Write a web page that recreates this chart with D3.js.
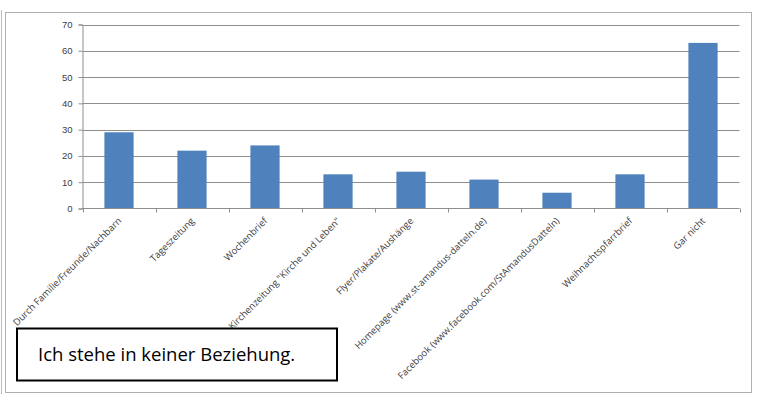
<!DOCTYPE html>
<html>
<head>
<meta charset="utf-8">
<script src="https://cdn.jsdelivr.net/npm/d3@7"></script>
<style>
  body { margin: 0; background: #fff; }
  svg { display: block; font-family: "Open Sans", sans-serif; }
</style>
</head>
<body>
<div id="chart"></div>
<script>
const categories = [
  "Durch Familie/Freunde/Nachbarn",
  "Tageszeitung",
  "Wochenbrief",
  "Kirchenzeitung \"Kirche und Leben\"",
  "Flyer/Plakate/Aushänge",
  "Homepage (www.st-amandus-datteln.de)",
  "Facebook (www.facebook.com/StAmandusDatteln)",
  "Weihnachtspfarrbrief",
  "Gar nicht"
];
const values = [29, 22, 24, 13, 14, 11, 6, 13, 63];
const yTicks = [0, 10, 20, 30, 40, 50, 60, 70];
const noteText = "Ich stehe in keiner Beziehung.";

const W = 767, H = 394;
const plot = { left: 82.5, right: 739.5, top: 24.5, bottom: 208.5 };

const svg = d3.select("#chart").append("svg")
  .attr("width", W)
  .attr("height", H);

// Rahmen
svg.append("line")
  .attr("x1", 1.5).attr("x2", 1.5).attr("y1", 10).attr("y2", H)
  .attr("stroke", "#bdbdbd").attr("stroke-width", 1);
svg.append("rect")
  .attr("x", 5.5).attr("y", 12.5)
  .attr("width", 746).attr("height", 380)
  .attr("fill", "#fff")
  .attr("stroke", "#b0b0b0").attr("stroke-width", 1);

const x = d3.scaleBand()
  .domain(categories)
  .range([plot.left, plot.right])
  .paddingInner(0.6)
  .paddingOuter(0.3);

const y = d3.scaleLinear()
  .domain([0, 70])
  .range([plot.bottom, plot.top]);

// Gitterlinien
svg.append("g")
  .selectAll("line")
  .data(yTicks.filter(d => d > 0))
  .join("line")
  .attr("x1", plot.left).attr("x2", plot.right)
  .attr("y1", d => Math.round(y(d)) + 0.5)
  .attr("y2", d => Math.round(y(d)) + 0.5)
  .attr("stroke", "#8e8e8e");

// Balken
svg.append("g")
  .selectAll("rect")
  .data(values)
  .join("rect")
  .attr("x", (d, i) => x(categories[i]))
  .attr("width", x.bandwidth())
  .attr("y", d => y(d))
  .attr("height", d => y(0) - y(d))
  .attr("fill", "#4f81bd");

// Y-Achse
const yAxis = svg.append("g")
  .attr("transform", `translate(${plot.left},0)`)
  .call(d3.axisLeft(y).tickValues(yTicks).tickSize(4).tickPadding(6));
yAxis.select(".domain").attr("stroke", "#8e8e8e");
yAxis.selectAll(".tick line").attr("stroke", "#8e8e8e");
yAxis.selectAll(".tick text")
  .attr("fill", "#404040")
  .style("font-size", "9.5px");

// X-Achse
const step = x.step();
const boundaries = d3.range(categories.length + 1).map(i => plot.left + i * step);
const xAxis = svg.append("g");
xAxis.append("line")
  .attr("x1", plot.left).attr("x2", plot.right)
  .attr("y1", plot.bottom).attr("y2", plot.bottom)
  .attr("stroke", "#8e8e8e");
xAxis.selectAll(".xt")
  .data(boundaries)
  .join("line")
  .attr("class", "xt")
  .attr("x1", d => Math.round(d) + 0.5).attr("x2", d => Math.round(d) + 0.5)
  .attr("y1", plot.bottom).attr("y2", plot.bottom + 4)
  .attr("stroke", "#8e8e8e");

xAxis.selectAll(".xl")
  .data(categories)
  .join("text")
  .attr("class", "xl")
  .attr("text-anchor", "end")
  .attr("fill", "#404040")
  .style("font-size", "9.5px")
  .attr("transform", d => `translate(${x(d) + x.bandwidth() / 2 + 3},${plot.bottom + 13}) rotate(-45)`)
  .text(d => d);

// Textfeld
svg.append("rect")
  .attr("x", 17).attr("y", 328.5)
  .attr("width", 320).attr("height", 52)
  .attr("fill", "#fff")
  .attr("stroke", "#000").attr("stroke-width", 2);
svg.append("text")
  .attr("x", 38).attr("y", 361)
  .attr("fill", "#000")
  .style("font-size", "18.5px")
  .text(noteText);
</script>
</body>
</html>
